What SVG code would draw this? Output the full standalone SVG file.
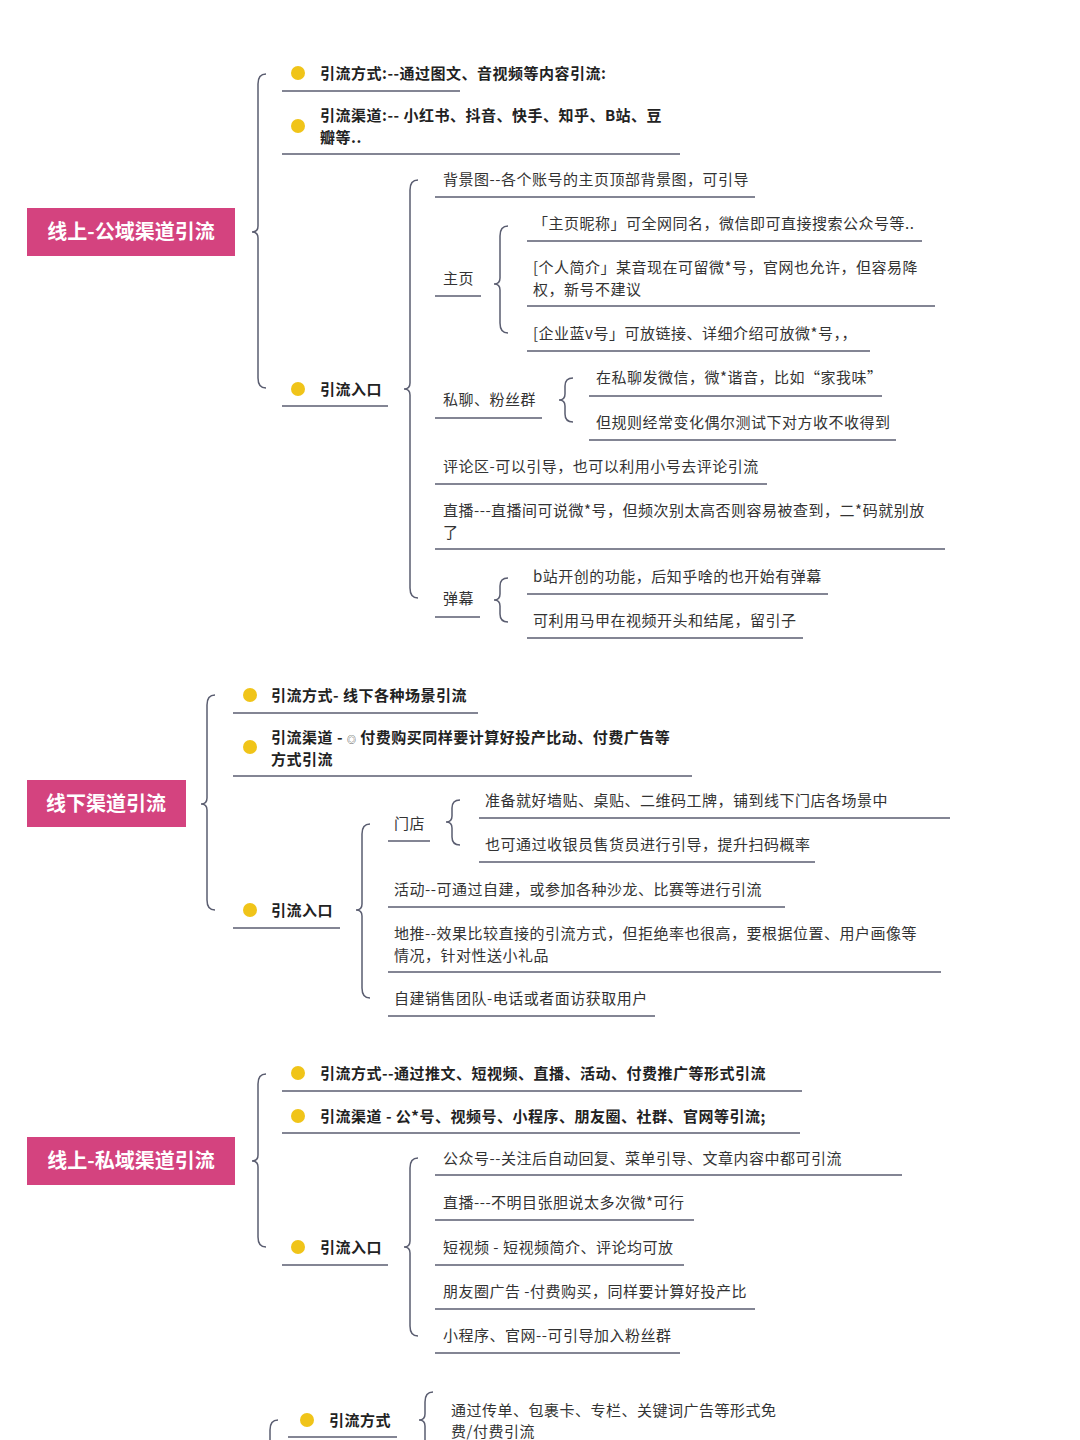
<svg xmlns="http://www.w3.org/2000/svg" width="1080" height="1440" viewBox="0 0 1080 1440">
<style>
text{font-family:"Noto Sans CJK SC","Liberation Sans",sans-serif;font-size:15px;letter-spacing:0.5px;fill:#333}
.b{font-weight:bold;fill:#222}
.root rect{fill:#d4437f}
.root text{fill:#fff;font-size:20px;font-weight:bold;text-anchor:middle;letter-spacing:0}
.ul{stroke:#5a5d70;stroke-width:1.5}
.br{fill:none;stroke:#5a5d70;stroke-width:1.5}
.dot{fill:#f0c419}
</style>
<rect width="1080" height="1440" fill="#fff"/>
<g id="connectors">
<path class="br" d="M266 74 Q258 74 258 84 L258 226 Q258 232 252 232 Q258 232 258 238 L258 378 Q258 388 266 388"/>
<path class="br" d="M418 180 Q410 180 410 190 L410 383 Q410 389 404 389 Q410 389 410 395 L410 588 Q410 598 418 598"/>
<path class="br" d="M508 226 Q500 226 500 236 L500 278 Q500 284 494 284 Q500 284 500 290 L500 323 Q500 333 508 333"/>
<path class="br" d="M573 378 Q565 378 565 386 L565 394 Q565 400 559 400 Q565 400 565 406 L565 414 Q565 422 573 422"/>
<path class="br" d="M508 578 Q500 578 500 586 L500 594 Q500 600 494 600 Q500 600 500 606 L500 614 Q500 622 508 622"/>
<path class="br" d="M215 695 Q207 695 207 705 L207 798 Q207 804 201 804 Q207 804 207 810 L207 900 Q207 910 215 910"/>
<path class="br" d="M370 824 Q362 824 362 834 L362 904 Q362 910 356 910 Q362 910 362 916 L362 988 Q362 998 370 998"/>
<path class="br" d="M460 800 Q452 800 452 808 L452 816 Q452 822 446 822 Q452 822 452 828 L452 837 Q452 845 460 845"/>
<path class="br" d="M266 1074 Q258 1074 258 1084 L258 1155 Q258 1161 252 1161 Q258 1161 258 1167 L258 1237 Q258 1247 266 1247"/>
<path class="br" d="M418 1158 Q410 1158 410 1168 L410 1241 Q410 1247 404 1247 Q410 1247 410 1253 L410 1326 Q410 1336 418 1336"/>
<path class="br" d="M278 1420 Q270 1420 270 1430 L270 1440"/>
<path class="br" d="M433 1392 Q425 1392 425 1402 L425 1414 Q425 1420 419 1420 Q425 1420 425 1426 L425 1440"/>
</g>
<g id="root1" class="root"><rect x="27" y="208" width="208" height="48"/><text x="131" y="239">线上-公域渠道引流</text></g>
<g id="s1a"><circle class="dot" cx="298" cy="73" r="7"/><text class="b" x="320" y="79">引流方式:--通过图文、音视频等内容引流:</text><line class="ul" x1="282" y1="91" x2="460" y2="91"/></g>
<g id="s1b"><circle class="dot" cx="298" cy="126" r="7"/><text class="b" x="320" y="121">引流渠道:-- 小红书、抖音、快手、知乎、B站、豆</text><text class="b" x="320" y="143">瓣等..</text><line class="ul" x1="282" y1="154" x2="680" y2="154"/></g>
<g id="s1c"><circle class="dot" cx="298" cy="389" r="7"/><text class="b" x="320" y="395">引流入口</text><line class="ul" x1="282" y1="406" x2="388" y2="406"/></g>
<g id="s1c1"><text x="443" y="185">背景图--各个账号的主页顶部背景图，可引导</text><line class="ul" x1="435" y1="197" x2="755" y2="197"/></g>
<g id="s1c2"><text x="443" y="284">主页</text><line class="ul" x1="435" y1="296" x2="481" y2="296"/></g>
<g id="s1c2a"><text x="533" y="229">「主页昵称」可全网同名，微信即可直接搜索公众号等..</text><line class="ul" x1="527" y1="241" x2="922" y2="241"/></g>
<g id="s1c2b"><text x="533" y="273">[个人简介」某音现在可留微*号，官网也允许，但容易降</text><text x="533" y="295">权，新号不建议</text><line class="ul" x1="527" y1="306" x2="935" y2="306"/></g>
<g id="s1c2c"><text x="533" y="339">[企业蓝v号」可放链接、详细介绍可放微*号，，</text><line class="ul" x1="527" y1="351" x2="870" y2="351"/></g>
<g id="s1c3"><text x="443" y="405">私聊、粉丝群</text><line class="ul" x1="435" y1="418" x2="542" y2="418"/></g>
<g id="s1c3a"><text x="596" y="383">在私聊发微信，微*谐音，比如“家我味”</text><line class="ul" x1="589" y1="396" x2="882" y2="396"/></g>
<g id="s1c3b"><text x="596" y="428">但规则经常变化偶尔测试下对方收不收得到</text><line class="ul" x1="589" y1="440" x2="896" y2="440"/></g>
<g id="s1c4"><text x="443" y="472">评论区-可以引导，也可以利用小号去评论引流</text><line class="ul" x1="435" y1="484" x2="767" y2="484"/></g>
<g id="s1c5"><text x="443" y="516">直播---直播间可说微*号，但频次别太高否则容易被查到，二*码就别放</text><text x="443" y="538">了</text><line class="ul" x1="435" y1="549" x2="945" y2="549"/></g>
<g id="s1c6"><text x="443" y="604">弹幕</text><line class="ul" x1="435" y1="617" x2="480" y2="617"/></g>
<g id="s1c6a"><text x="533" y="582">b站开创的功能，后知乎啥的也开始有弹幕</text><line class="ul" x1="527" y1="594" x2="828" y2="594"/></g>
<g id="s1c6b"><text x="533" y="626">可利用马甲在视频开头和结尾，留引子</text><line class="ul" x1="527" y1="638" x2="803" y2="638"/></g>

<g id="root2" class="root"><rect x="27" y="780" width="159" height="47"/><text x="106" y="811">线下渠道引流</text></g>
<g id="s2a"><circle class="dot" cx="250" cy="695" r="7"/><text class="b" x="271" y="701">引流方式- 线下各种场景引流</text><line class="ul" x1="233" y1="713" x2="478" y2="713"/></g>
<g id="s2b"><circle class="dot" cx="250" cy="747" r="7"/><text class="b" x="271" y="743">引流渠道 - <tspan font-size="9" font-weight="normal">◎</tspan> 付费购买同样要计算好投产比动、付费广告等</text><text class="b" x="271" y="765">方式引流</text><line class="ul" x1="233" y1="776" x2="692" y2="776"/></g>
<g id="s2c"><circle class="dot" cx="250" cy="910" r="7"/><text class="b" x="271" y="916">引流入口</text><line class="ul" x1="233" y1="928" x2="340" y2="928"/></g>
<g id="s2c1"><text x="394" y="829">门店</text><line class="ul" x1="388" y1="841" x2="430" y2="841"/></g>
<g id="s2c1a"><text x="485" y="806">准备就好墙贴、桌贴、二维码工牌，铺到线下门店各场景中</text><line class="ul" x1="479" y1="818" x2="950" y2="818"/></g>
<g id="s2c1b"><text x="485" y="850">也可通过收银员售货员进行引导，提升扫码概率</text><line class="ul" x1="479" y1="862" x2="815" y2="862"/></g>
<g id="s2c2"><text x="394" y="895">活动--可通过自建，或参加各种沙龙、比赛等进行引流</text><line class="ul" x1="388" y1="907" x2="785" y2="907"/></g>
<g id="s2c3"><text x="394" y="939">地推--效果比较直接的引流方式，但拒绝率也很高，要根据位置、用户画像等</text><text x="394" y="961">情况，针对性送小礼品</text><line class="ul" x1="388" y1="972" x2="941" y2="972"/></g>
<g id="s2c4"><text x="394" y="1004">自建销售团队-电话或者面访获取用户</text><line class="ul" x1="388" y1="1016" x2="655" y2="1016"/></g>

<g id="root3" class="root"><rect x="27" y="1137" width="208" height="48"/><text x="131" y="1168">线上-私域渠道引流</text></g>
<g id="s3a"><circle class="dot" cx="298" cy="1073" r="7"/><text class="b" x="320" y="1079">引流方式--通过推文、短视频、直播、活动、付费推广等形式引流</text><line class="ul" x1="282" y1="1091" x2="802" y2="1091"/></g>
<g id="s3b"><circle class="dot" cx="298" cy="1116" r="7"/><text class="b" x="320" y="1122">引流渠道 - 公*号、视频号、小程序、朋友圈、社群、官网等引流;</text><line class="ul" x1="282" y1="1133" x2="800" y2="1133"/></g>
<g id="s3c"><circle class="dot" cx="298" cy="1247" r="7"/><text class="b" x="320" y="1253">引流入口</text><line class="ul" x1="282" y1="1265" x2="388" y2="1265"/></g>
<g id="s3c1"><text x="443" y="1164">公众号--关注后自动回复、菜单引导、文章内容中都可引流</text><line class="ul" x1="435" y1="1175" x2="902" y2="1175"/></g>
<g id="s3c2"><text x="443" y="1208">直播---不明目张胆说太多次微*可行</text><line class="ul" x1="435" y1="1220" x2="694" y2="1220"/></g>
<g id="s3c3"><text x="443" y="1253">短视频 - 短视频简介、评论均可放</text><line class="ul" x1="435" y1="1265" x2="684" y2="1265"/></g>
<g id="s3c4"><text x="443" y="1297">朋友圈广告 -付费购买，同样要计算好投产比</text><line class="ul" x1="435" y1="1309" x2="755" y2="1309"/></g>
<g id="s3c5"><text x="443" y="1341">小程序、官网--可引导加入粉丝群</text><line class="ul" x1="435" y1="1353" x2="680" y2="1353"/></g>

<g id="s4a"><circle class="dot" cx="307" cy="1420" r="7"/><text class="b" x="329" y="1426">引流方式</text><line class="ul" x1="288" y1="1437" x2="397" y2="1437"/></g>
<g id="s4a1"><text x="451" y="1416">通过传单、包裹卡、专栏、关键词广告等形式免</text><text x="451" y="1437">费/付费引流</text></g>
</svg>
